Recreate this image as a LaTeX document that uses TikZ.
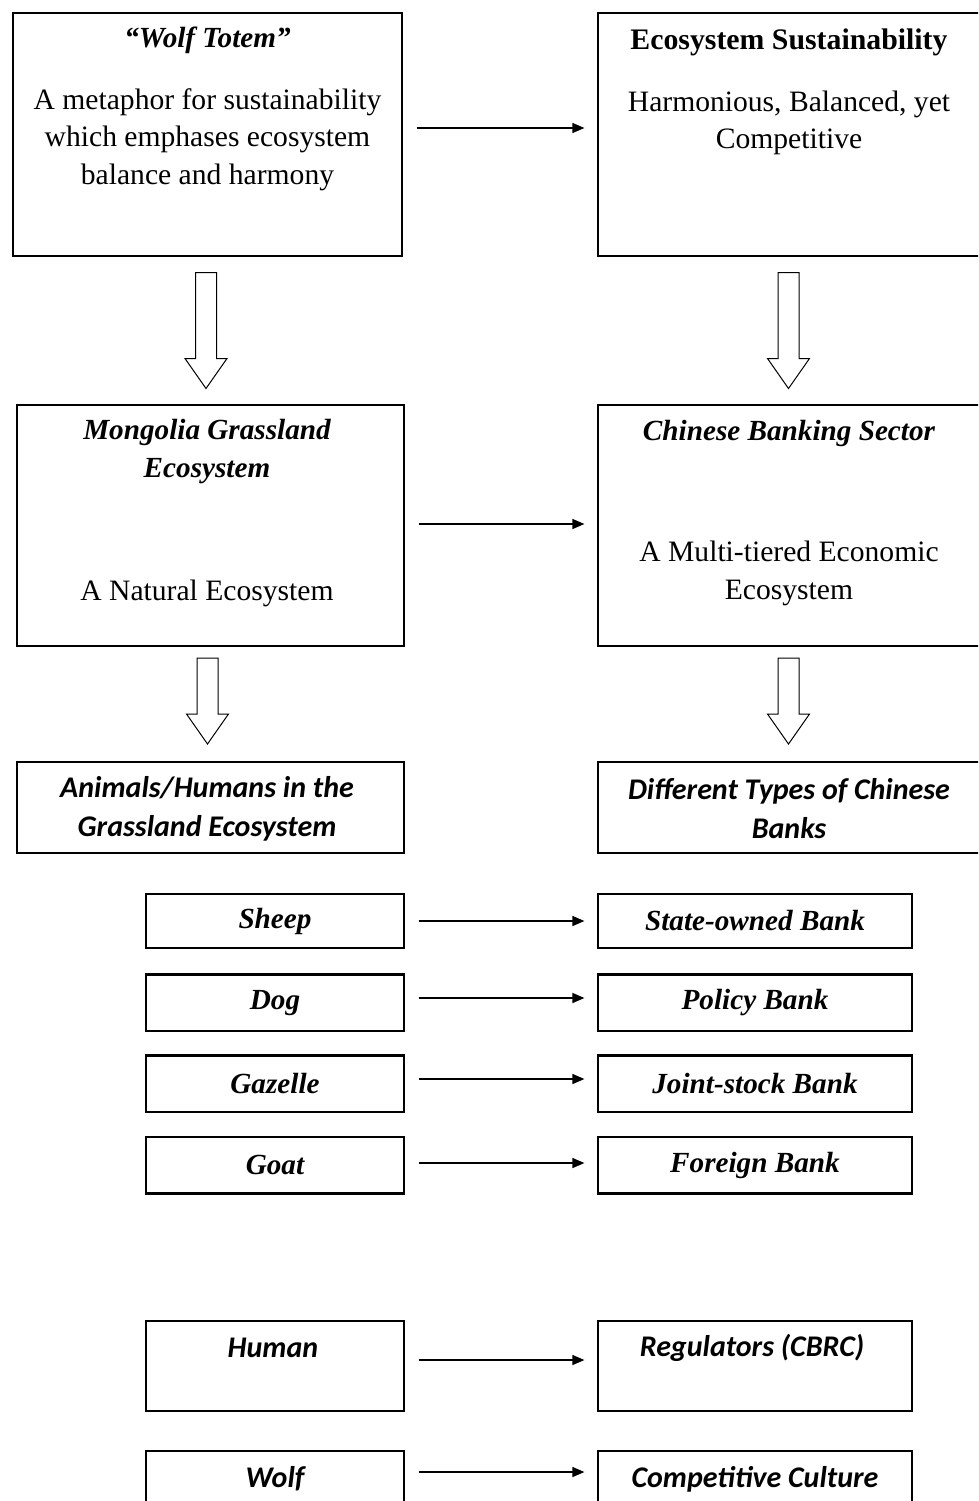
\documentclass[tikz,border=0pt]{standalone}
\usepackage{fontspec}
\setmainfont{Liberation Serif}
\newfontfamily\calibri{Carlito}
\usetikzlibrary{arrows.meta,calc}

\begin{document}
\begin{tikzpicture}[x=1pt,y=-1pt,
        box/.style={draw, line width=1.2pt, inner sep=0pt},
        plain/.style={font=\fontsize{29.6}{37.5}\selectfont, align=center, inner sep=0pt},
        slabbi/.style={font=\fontsize{29.2}{38}\selectfont\bfseries\itshape, align=center, inner sep=0pt},
        narrowbi/.style={font=\calibri\fontsize{30}{39}\selectfont\bfseries\itshape, align=center, inner sep=0pt},
        link/.style={-{Triangle[length=12pt,width=10pt]}, line width=1.3pt, shorten <=14pt, shorten >=13pt},
        hollow/.style={line width=1pt, fill=white, line join=miter}]
        \useasboundingbox (0,0) rectangle (978,1501);
        \clip (0,0) rectangle (978,1501);

        % big boxes
        \node[box, minimum width=389pt, minimum height=243pt] (totem) at (207.5,134.5) {};
        \node[box, minimum width=387pt, minimum height=243pt] (sustain) at (791.5,134.5) {};
        \node[box, minimum width=387pt, minimum height=241pt] (grass) at (210.5,525.5) {};
        \node[box, minimum width=387pt, minimum height=241pt] (banking) at (791.5,525.5) {};
        \node[box, minimum width=387pt, minimum height=91pt] (animals) at (210.5,807.5) {};
        \node[box, minimum width=387pt, minimum height=91pt] (types) at (791.5,807.5) {};

        \node[slabbi] (totemtitle) at (207.5,40) {“Wolf Totem”};
        \node[plain] (totembody) at (207.5,139.5) {A metaphor for sustainability\\which emphases ecosystem\\balance and harmony};
        \node[plain, font=\fontsize{29.8}{38}\selectfont\bfseries] (sustaintitle) at (789,42) {Ecosystem Sustainability};
        \node[plain] (sustainbody) at (789,123) {Harmonious, Balanced, yet\\Competitive};
        \node[slabbi] (grasstitle) at (207,452) {Mongolia Grassland\\Ecosystem};
        \node[plain] (grassbody) at (207,593) {A Natural Ecosystem};
        \node[slabbi] (bankingtitle) at (789,433) {Chinese Banking Sector};
        \node[plain] (bankingbody) at (789,573.5) {A Multi-tiered Economic\\Ecosystem};
        \node[narrowbi] (animalstext) at (207,808.5) {Animals/Humans in the\\Grassland Ecosystem};
        \node[narrowbi] (typestext) at (789,808.5) {Different Types of Chinese\\Banks};

        % small boxes
        \foreach \n/\y/\h/\l/\r in {sheep/921/54/Sheep/State-owned Bank, dog/1003/56/Dog/Policy Bank,
                gazelle/1084/56/Gazelle/Joint-stock Bank, goat/1165/56/Goat/Foreign Bank} {
                \node[box, slabbi, minimum width=258pt, minimum height=\h pt] (\n) at (275,\y) {\l};
                \node[box, slabbi, minimum width=314pt, minimum height=\h pt] (\n bank) at (755,\y) {\r};
        }
        \foreach \n in {dog,dogbank,gazelle,gazellebank}
                \draw[line width=2.4pt] (\n.north west) -- (\n.north east);
        \foreach \n in {goat,goatbank}
                \draw[line width=2.4pt] (\n.south west) -- (\n.south east);

        \node[box, minimum width=258pt, minimum height=90pt] (human) at (275,1366) {};
        \node[box, minimum width=314pt, minimum height=90pt] (cbrc) at (755,1366) {};
        \node[narrowbi] (humantext) at (273,1348) {Human};
        \node[narrowbi] (cbrctext) at (752,1348) {Regulators (CBRC)};
        \node[box, narrowbi, minimum width=258pt, minimum height=56pt] (wolf) at (275,1479) {Wolf};
        \node[box, narrowbi, minimum width=314pt, minimum height=56pt] (culture) at (755,1479) {Competitive Culture};

        % arrows
        \foreach \a/\b/\s in {totem/sustain/6.5, grass/banking/1.5, sheep/sheepbank/0, dog/dogbank/5,
                gazelle/gazellebank/5, goat/goatbank/2, human/cbrc/6, wolf/culture/7}
                \draw[link] ([yshift=\s pt]\a.east) -- ([yshift=\s pt]\b.west);
        \foreach \a/\b/\h/\d in {totem/grass/58/0, sustain/banking/58/0, grass/animals/43/-3, banking/types/43/-3} {
                \coordinate (m) at ($(\a.south)!0.5!(\b.north)+(-3,\d)$);
                \draw[hollow] ([shift={(-10.5,-\h)}]m) -- ([shift={(10.5,-\h)}]m) -- ([shift={(10.5,\h-30)}]m)
                        -- ([shift={(21,\h-30)}]m) -- ([shift={(0,\h)}]m) -- ([shift={(-21,\h-30)}]m)
                        -- ([shift={(-10.5,\h-30)}]m) -- cycle;
        }
\end{tikzpicture}
\end{document}
